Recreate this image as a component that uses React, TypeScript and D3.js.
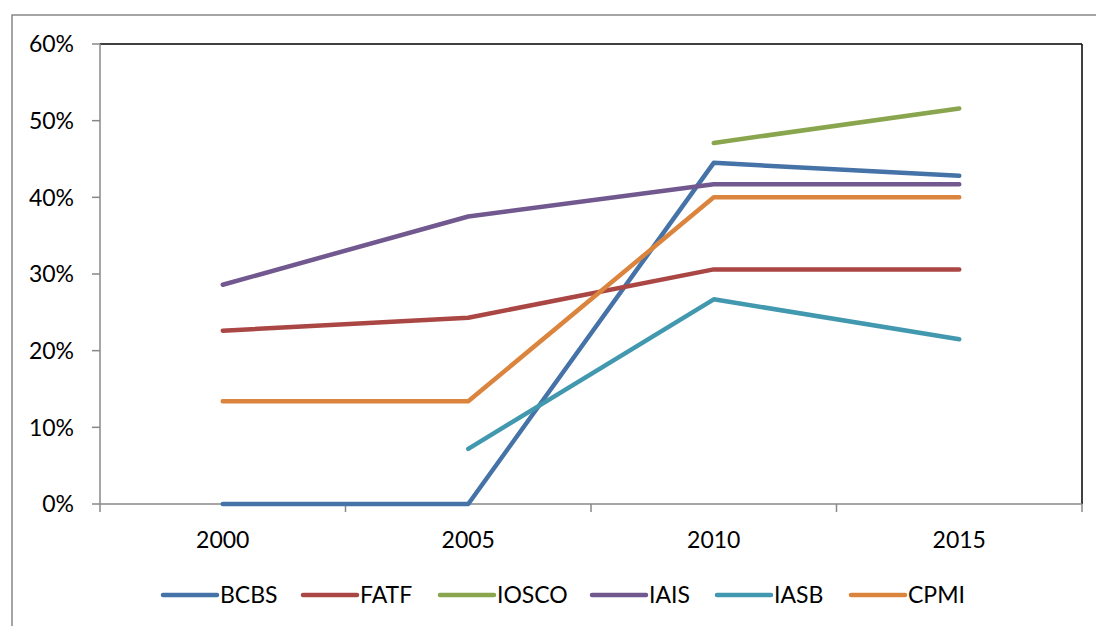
import React from "react";
import * as d3 from "d3";

const years = ["2000", "2005", "2010", "2015"];
const seriesNames = ["BCBS", "FATF", "IOSCO", "IAIS", "IASB", "CPMI"];
const colors = ["#4572A7", "#AA4643", "#89A54E", "#71588F", "#4198AF", "#DB843D"];
const BCBS = [0, 0, 0.445, 0.428];
const FATF = [0.226, 0.243, 0.306, 0.306];
const IOSCO = [null, null, 0.471, 0.516];
const IAIS = [0.286, 0.375, 0.417, 0.417];
const IASB = [null, 0.072, 0.267, 0.215];
const CPMI = [0.134, 0.134, 0.4, 0.4];
const seriesValues: (number | null)[][] = [BCBS, FATF, IOSCO, IAIS, IASB, CPMI];
const yTicks = [0, 0.1, 0.2, 0.3, 0.4, 0.5, 0.6];
const legendX = [163, 303, 440, 592, 717, 851];

const FONT = "Lato, 'Open Sans', sans-serif";

export default function App() {
  const W = 1096, H = 626;
  const left = 100, right = 1082, top = 44, bottom = 504;
  const x = d3.scaleBand().domain(years).range([left, right]);
  const y = d3.scaleLinear().domain([0, 0.6]).range([bottom, top]);
  const line = d3
    .line<number | null>()
    .defined((d) => d !== null)
    .x((_, i) => (x(years[i]) as number) + x.bandwidth() / 2)
    .y((d) => y(d as number));
  const fmt = d3.format(".0%");
  const xTicks = [...years.map((yr) => x(yr) as number), right];

  return (
    <svg width={W} height={H} style={{ position: "absolute", left: 0, top: 0, background: "#fff" }}>
      <rect x={0} y={0} width={W} height={H} fill="#fff" />
      <rect x={12} y={15} width={W + 20} height={H + 20} fill="none" stroke="#888" strokeWidth={1.5} />
      <line x1={left} x2={right} y1={top} y2={top} stroke="#000" strokeWidth={1.5} />
      <line x1={right} x2={right} y1={top} y2={bottom} stroke="#000" strokeWidth={1.5} />
      <line x1={left} x2={left} y1={top} y2={bottom} stroke="#888" strokeWidth={1.5} />
      <line x1={left} x2={right} y1={bottom} y2={bottom} stroke="#888" strokeWidth={1.5} />
      {yTicks.map((t) => (
        <g key={t}>
          <line x1={left - 8} x2={left} y1={y(t)} y2={y(t)} stroke="#888" strokeWidth={1.5} />
          <text x={74} y={y(t)} dy="0.36em" textAnchor="end" fontFamily={FONT} fontSize={23} fill="#000">
            {fmt(t)}
          </text>
        </g>
      ))}
      {xTicks.map((t, i) => (
        <line key={i} x1={t} x2={t} y1={bottom} y2={bottom + 8} stroke="#888" strokeWidth={1.5} />
      ))}
      {years.map((yr) => (
        <text key={yr} x={(x(yr) as number) + x.bandwidth() / 2} y={540} dy="0.36em" textAnchor="middle" fontFamily={FONT} fontSize={23} fill="#000">
          {yr}
        </text>
      ))}
      {seriesValues.map((vals, i) => (
        <path key={seriesNames[i]} d={line(vals) || ""} fill="none" stroke={colors[i]} strokeWidth={4.5} strokeLinecap="round" strokeLinejoin="round" />
      ))}
      {seriesNames.map((n, i) => (
        <g key={n}>
          <line x1={legendX[i]} x2={legendX[i] + 54} y1={595} y2={595} stroke={colors[i]} strokeWidth={4.5} strokeLinecap="round" />
          <text x={legendX[i] + 57} y={595} dy="0.36em" fontFamily={FONT} fontSize={23} fill="#000">
            {n}
          </text>
        </g>
      ))}
    </svg>
  );
}
